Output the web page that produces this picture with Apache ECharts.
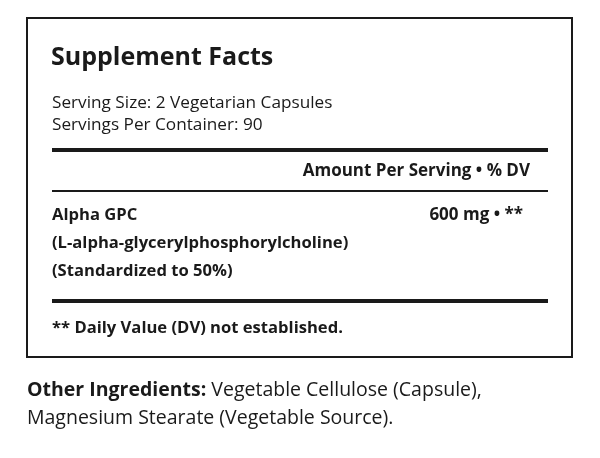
<!DOCTYPE html>
<html><head><meta charset="utf-8">
<script src="https://cdn.jsdelivr.net/npm/echarts@6/dist/echarts.min.js"></script>
<style>html,body{margin:0;padding:0;background:#fff}#c{width:600px;height:458px}</style>
</head><body><div id="c"></div>
<script>
const title = "Supplement Facts";
const servingLines = ["Serving Size: 2 Vegetarian Capsules", "Servings Per Container: 90"];
const header = "Amount Per Serving • % DV";
const ingredientLines = ["Alpha GPC", "(L-alpha-glycerylphosphorylcholine)", "(Standardized to 50%)"];
const amount = "600 mg • **";
const footnote = "** Daily Value (DV) not established.";
const otherLabel = "Other Ingredients:";
const otherLines = [" Vegetable Cellulose (Capsule),", "Magnesium Stearate (Vegetable Source)."];

const F = "Open Sans";
const chart = echarts.init(document.getElementById('c'));
const g = [];
function txt(t, x, y, size, bold, align) {
  g.push({type:'text', x, y, style:{text:t, x:0, y:0, fontFamily:F, fontSize:size, fontWeight:bold?'bold':'normal', fill:'#1a1a1a', textAlign:align||'left', textVerticalAlign:'middle'}});
}
function line(y, w) {
  g.push({type:'line', shape:{x1:52, y1:y, x2:548, y2:y}, style:{stroke:'#1a1a1a', lineWidth:w}});
}
g.push({type:'rect', shape:{x:27, y:18, width:545, height:339}, style:{fill:'none', stroke:'#1a1a1a', lineWidth:2}});
txt(title, 51, 58, 25, true);
servingLines.forEach((s,i)=>txt(s, 52, 103+i*22, 17.2, false));
line(150, 4);
txt(header, 530, 171, 17, true, 'right');
line(191, 2);
ingredientLines.forEach((s,i)=>txt(s, 52, 215+i*28, 16.6, true));
txt(amount, 523, 215, 17, true, 'right');
line(301, 4);
txt(footnote, 52, 328, 16.6, true);
g.push({type:'text', x:27, y:390, style:{text:'{b|'+otherLabel+'}{n|'+otherLines[0]+'}', rich:{b:{fontFamily:F,fontSize:19.5,fontWeight:'bold',fill:'#1a1a1a'}, n:{fontFamily:F,fontSize:19.5,fill:'#1a1a1a'}}, textVerticalAlign:'middle'}});
txt(otherLines[1], 27, 418, 19.5, false);
chart.setOption({graphic:{elements:g}});
</script></body></html>
